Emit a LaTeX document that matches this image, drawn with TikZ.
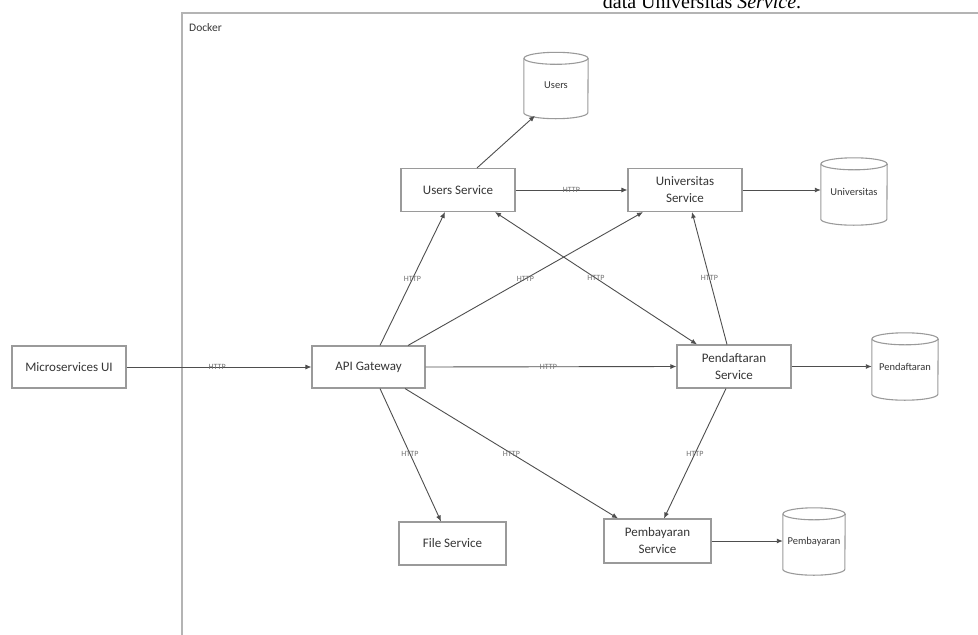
\documentclass[tikz,border=0pt]{standalone}
\usepackage{fontspec}
\setmainfont{Carlito}
\newfontfamily\serifface{Liberation Serif}
\usetikzlibrary{arrows.meta,calc}
\definecolor{linegray}{HTML}{4E4E4E}
\definecolor{boxgray}{HTML}{9A9A9A}
\definecolor{textgray}{HTML}{363636}
\definecolor{framegray}{HTML}{B4B4B4}
\definecolor{httpgray}{HTML}{707070}
\tikzset{
  svcbox/.style={draw=boxgray, line width=1.1pt, fill=white, text=textgray, font=\fontsize{13}{17}\selectfont, align=center, inner sep=0pt},
  cylnode/.style={inner sep=0pt, text=textgray, font=\fontsize{10.5}{12}\selectfont},
  conn/.style={draw=linegray, line width=0.9pt, -{Latex[length=6pt,width=5pt]}},
  conn2/.style={draw=linegray, line width=0.9pt, {Latex[length=6pt,width=5pt]}-{Latex[length=6pt,width=5pt]}},
  httplbl/.style={font=\fontsize{8}{9}\selectfont, text=httpgray, inner sep=0pt}
}
\newcommand{\cylshape}[1]{%
  \draw[draw=boxgray, line width=1.1pt]
    ($(#1.north west)+(0pt,-6pt)$) -- ($(#1.south west)+(0pt,6pt)$)
    arc[start angle=180, end angle=360, x radius=0.5*\cylw, y radius=6pt]
    -- ($(#1.north east)+(0pt,-6pt)$);
  \draw[draw=boxgray, line width=1.1pt] ($(#1.north)+(0pt,-6pt)$) ellipse[x radius=0.5*\cylw, y radius=6pt];}
\begin{document}
\begin{tikzpicture}[x=1pt,y=-1pt]
\useasboundingbox (0,0) rectangle (978,635);
\begin{scope}
\clip (0,0) rectangle (978,635);
\node[font=\serifface\fontsize{20}{24}\selectfont, anchor=base, inner sep=0pt] (caption) at (702,8) {data Universitas \textit{Service}.};
\draw[draw=framegray, line width=1.6pt] (182,13) rectangle (1000,660);
\end{scope}
\node[anchor=west, text=textgray, font=\fontsize{11.5}{13}\selectfont, inner sep=0pt] (docker) at (189,28) {Docker};

% service boxes
\node[svcbox, minimum width=114pt, minimum height=42pt] (ms) at (69,367) {Microservices UI};
\node[svcbox, minimum width=113pt, minimum height=42pt] (api) at (368.5,367) {API Gateway};
\node[svcbox, minimum width=114pt, minimum height=43pt] (us) at (458,190) {Users Service};
\node[svcbox, minimum width=114pt, minimum height=43pt] (univ) at (685,190) {Universitas\\Service};
\node[svcbox, minimum width=114pt, minimum height=43pt] (pend) at (734,366.5) {Pendaftaran\\Service};
\node[svcbox, minimum width=107pt, minimum height=43pt] (file) at (452.5,543.5) {File Service};
\node[svcbox, minimum width=107pt, minimum height=44pt] (pemb) at (657.5,541) {Pembayaran\\Service};

% cylinders
\def\cylw{64pt}
\node[cylnode, minimum width=64pt, minimum height=66pt] (cusers) at (556,85.5) {Users};
\cylshape{cusers}
\def\cylw{66pt}
\node[cylnode, minimum width=66pt, minimum height=67pt] (cuniv) at (854,191.5) {Universitas};
\cylshape{cuniv}
\node[cylnode, minimum width=66pt, minimum height=67pt] (cpend) at (905,366.5) {Pendaftaran};
\cylshape{cpend}
\def\cylw{62pt}
\node[cylnode, minimum width=62pt, minimum height=67pt] (cpemb) at (814,541.5) {Pembayaran};
\cylshape{cpemb}

% connectors
\draw[conn] (ms.east) -- node[httplbl, pos=0.49] {HTTP} (api.west);
\draw[conn] ([xshift=11.5pt]api.north) -- node[httplbl] {HTTP} ([xshift=-13pt]us.south);
\draw[conn] ([xshift=39.5pt]api.north) -- node[httplbl] {HTTP} ([xshift=-42pt]univ.south);
\draw[conn2] ([xshift=37pt]us.south) -- node[httplbl] {HTTP} ([xshift=-37pt]pend.north);
\draw[conn] ([xshift=-7pt]pend.north) -- node[httplbl] {HTTP} ([xshift=7pt]univ.south);
\draw[conn] (api.east) -- node[httplbl, pos=0.49] {HTTP} (pend.west);
\draw[conn] (us.east) -- node[httplbl] {HTTP} (univ.west);
\draw[conn] ([xshift=11.5pt]api.south) -- node[httplbl, pos=0.49] {HTTP} ([xshift=-11.5pt]file.north);
\draw[conn] ([xshift=36.5pt]api.south) -- node[httplbl] {HTTP} ([xshift=-39.5pt]pemb.north);
\draw[conn] ([xshift=-8pt]pend.south) -- node[httplbl] {HTTP} ([xshift=6.5pt]pemb.north);
\draw[conn] ([xshift=19pt]us.north) -- ([xshift=-21pt,yshift=3pt]cusers.south);
\draw[conn] (univ.east) -- (univ.east -| cuniv.west);
\draw[conn] (pend.east) -- (pend.east -| cpend.west);
\draw[conn] (pemb.east) -- (pemb.east -| cpemb.west);
\end{tikzpicture}
\end{document}
